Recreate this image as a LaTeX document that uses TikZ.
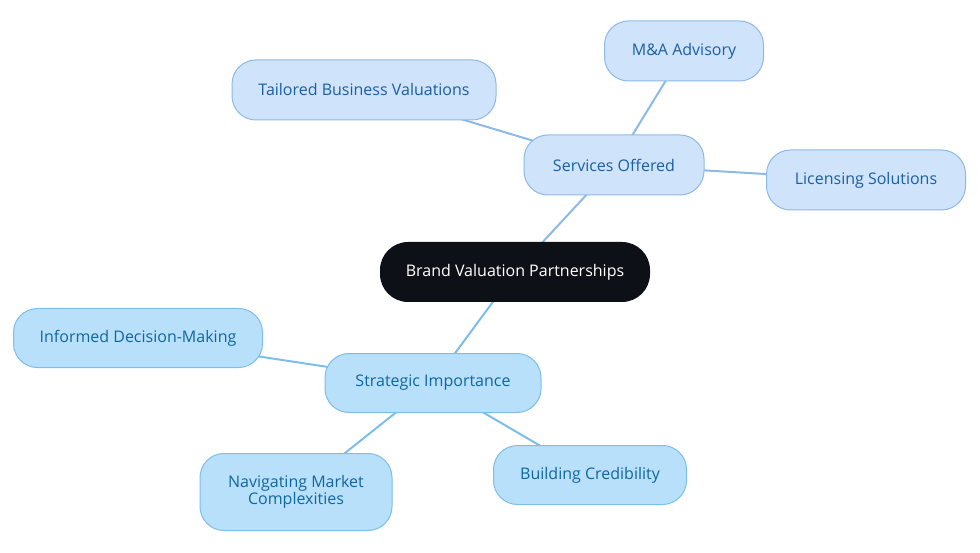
\documentclass[tikz,border=0pt]{standalone}
\usepackage{fontspec}
\setmainfont{Open Sans}
\usepackage{xcolor}
\usetikzlibrary{positioning,backgrounds}
\definecolor{rootfill}{HTML}{0D1117}
\definecolor{upfill}{HTML}{CFE3FA}
\definecolor{updraw}{HTML}{8DB9E6}
\definecolor{uptext}{HTML}{1B5FA6}
\definecolor{lowfill}{HTML}{B9E0FB}
\definecolor{lowdraw}{HTML}{7CBDE9}
\definecolor{lowtext}{HTML}{10679F}

\begin{document}
\begin{tikzpicture}[x=1pt,y=-1pt,
        root/.style={rectangle, rounded corners=28pt, fill=rootfill, text=white, minimum width=270pt, minimum height=60pt, font=\fontsize{16}{17}\selectfont, align=center},
        upbox/.style={rectangle, draw=updraw, line width=1pt, rounded corners=24pt, fill=upfill, text=uptext, minimum height=60pt, font=\fontsize{16}{17}\selectfont, align=center},
        lowbox/.style={rectangle, draw=lowdraw, line width=1pt, rounded corners=24pt, fill=lowfill, text=lowtext, minimum height=59pt, font=\fontsize{16}{17}\selectfont, align=center},
        upline/.style={draw=updraw, line width=2pt},
        lowline/.style={draw=lowdraw, line width=2pt},
      ]
      \useasboundingbox (0,0) rectangle (980,553);
      % centre
      \node [root] (brand) at (515,272) {Brand Valuation Partnerships};
      % upper branch
      \node [upbox, minimum width=180pt] (services) at (614,165) {Services Offered};
      \node [upbox, minimum width=159pt] (advisory) at (684,51) {M\&A Advisory};
      \node [upbox, minimum width=264pt] (tailored) at (364,90) {Tailored Business Valuations};
      \node [upbox, minimum width=199pt] (licensing) at (866,180) {Licensing Solutions};
      % lower branch
      \node [lowbox, minimum width=216pt] (strategic) at (433,383) {Strategic Importance};
      \node [lowbox, minimum width=249pt] (informed) at (138,338) {Informed Decision-Making};
      \node [lowbox, minimum width=192pt, minimum height=77pt] (navigating) at (296,492) {Navigating Market\\Complexities};
      \node [lowbox, minimum width=193pt] (credibility) at (590,475) {Building Credibility};
      \begin{pgfonlayer}{background}
        \draw [upline] (brand.center) -- (services.center);
        \draw [upline] (services.center) -- (advisory.center);
        \draw [upline] (services.center) -- (tailored.center);
        \draw [upline] (services.center) -- (licensing.center);
        \draw [lowline] (brand.center) -- (strategic.center);
        \draw [lowline] (strategic.center) -- (informed.center);
        \draw [lowline] (strategic.center) -- (navigating.center);
        \draw [lowline] (strategic.center) -- (credibility.center);
      \end{pgfonlayer}
    \end{tikzpicture}
\end{document}
